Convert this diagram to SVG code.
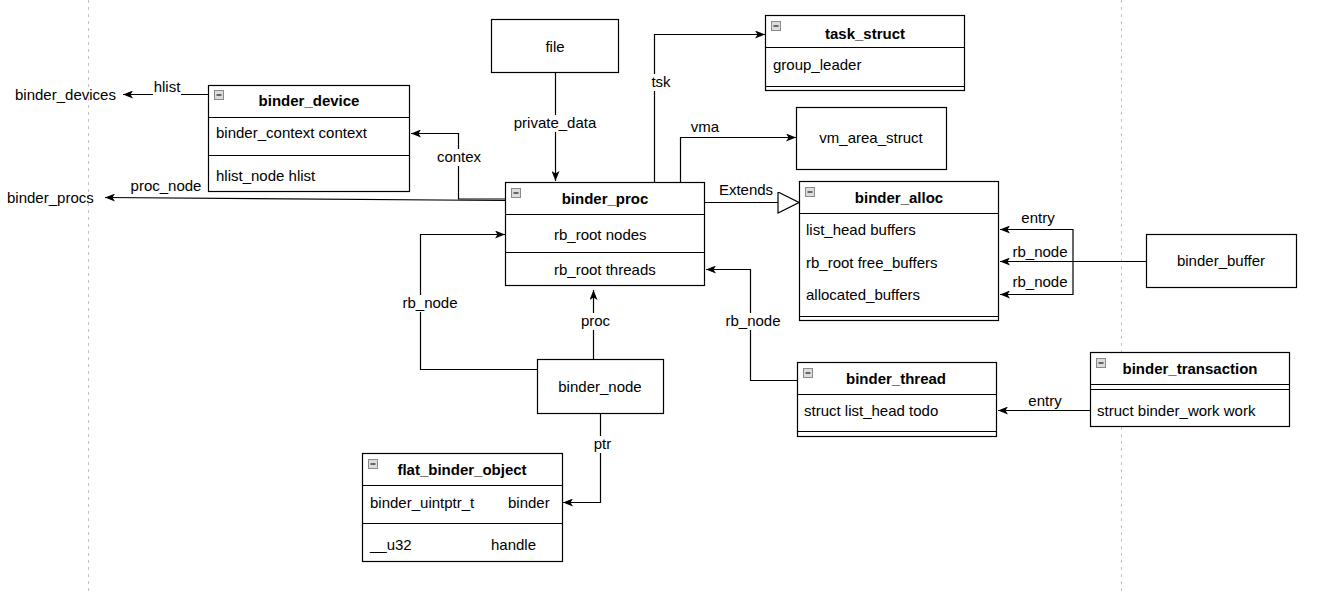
<svg xmlns="http://www.w3.org/2000/svg" width="1332" height="593" viewBox="0 0 1332 593">
<style>
.bx{fill:#fff;stroke:#000;stroke-width:1.2}
.ln{stroke:#000;stroke-width:1.2}
.t{font-family:"Liberation Sans",Arial,sans-serif;font-size:15px;fill:#000}
.b{font-weight:bold}
.c{text-anchor:middle}
.e{fill:none;stroke:#000;stroke-width:1.2}
.bg{fill:#fff}
.ic{fill:#dcdcdc;stroke:#8a8a8a;stroke-width:1}
.im{stroke:#4a4a4a;stroke-width:1.6}
.dash{stroke:#c4c4c4;stroke-width:1;stroke-dasharray:3 4}
</style>
<defs>
<marker id="arr" markerUnits="userSpaceOnUse" viewBox="0 0 10 8" refX="10" refY="4" markerWidth="10" markerHeight="8" orient="auto">
<path d="M0,0 L10,4 L0,8 L2.5,4 Z" fill="#000"/>
</marker>
<marker id="tri" markerUnits="userSpaceOnUse" viewBox="0 0 23 22" refX="22" refY="11" markerWidth="23" markerHeight="22" orient="auto">
<path d="M1,0.5 L22,11 L1,21.5 Z" fill="#fff" stroke="#000" stroke-width="1.2"/>
</marker>
<g id="icon">
<rect class="ic" x="0.5" y="0.5" width="9" height="9"/>
<line class="im" x1="2.5" y1="5" x2="7.5" y2="5"/>
</g>
</defs>
<rect width="1332" height="593" fill="#fff"/>
<g id="guides">
<line class="dash" x1="88.5" y1="0" x2="88.5" y2="593"/>
<line class="dash" x1="1121.5" y1="0" x2="1121.5" y2="593"/>
</g>
<g id="connectors">
<path class="e" d="M208,94.5 L123,94.5" marker-end="url(#arr)"/>
<rect class="bg" x="153" y="81" width="28" height="15"/>
<text class="t c" x="167" y="92">hlist</text>
<path class="e" d="M505,200.5 L105,197.5" marker-end="url(#arr)"/>
<text class="t c" x="166" y="191">proc_node</text>
<path class="e" d="M505,199 L458.5,199 L458.5,133.5 L411,133.5" marker-end="url(#arr)"/>
<rect class="bg" x="436" y="149" width="46" height="17"/>
<text class="t c" x="459" y="162">contex</text>
<path class="e" d="M555.5,73 L555.5,181" marker-end="url(#arr)"/>
<rect class="bg" x="513" y="115" width="85" height="17"/>
<text class="t c" x="555" y="128">private_data</text>
<path class="e" d="M654.5,182 L654.5,34.5 L765,34.5" marker-end="url(#arr)"/>
<rect class="bg" x="650" y="74" width="22" height="17"/>
<text class="t c" x="661" y="87">tsk</text>
<path class="e" d="M680.5,182 L680.5,137.5 L796,137.5" marker-end="url(#arr)"/>
<text class="t c" x="705" y="132">vma</text>
<path class="e" d="M705,202.5 L799,202.5" marker-end="url(#tri)"/>
<text class="t c" x="746" y="195">Extends</text>
<path class="e" d="M1146,261.5 L1073,261.5 L1073,229.5 L1000,229.5" marker-end="url(#arr)"/>
<path class="e" d="M1146,261.5 L1000,261.5" marker-end="url(#arr)"/>
<path class="e" d="M1146,261.5 L1073,261.5 L1073,294.5 L1000,294.5" marker-end="url(#arr)"/>
<text class="t c" x="1038" y="223">entry</text>
<text class="t c" x="1040" y="257">rb_node</text>
<text class="t c" x="1040" y="287">rb_node</text>
<path class="e" d="M593.5,359 L593.5,290" marker-end="url(#arr)"/>
<rect class="bg" x="580" y="313" width="31" height="17"/>
<text class="t c" x="595.5" y="326">proc</text>
<path class="e" d="M537,369.5 L420.5,369.5 L420.5,234.5 L505,234.5" marker-end="url(#arr)"/>
<rect class="bg" x="402" y="295" width="56" height="17"/>
<text class="t c" x="430" y="308">rb_node</text>
<path class="e" d="M797,380.5 L750.5,380.5 L750.5,269.5 L706,269.5" marker-end="url(#arr)"/>
<rect class="bg" x="725" y="313" width="56" height="17"/>
<text class="t c" x="753" y="326">rb_node</text>
<path class="e" d="M1090,410.5 L998,410.5" marker-end="url(#arr)"/>
<text class="t c" x="1045" y="406">entry</text>
<path class="e" d="M600.5,413 L600.5,502.5 L563,502.5" marker-end="url(#arr)"/>
<rect class="bg" x="592" y="436" width="21" height="17"/>
<text class="t c" x="602.5" y="449">ptr</text>
</g>
<g id="binder_device">
<rect class="bx" x="208.5" y="85.5" width="201" height="106"/>
<line class="ln" x1="208.5" y1="117.5" x2="409.5" y2="117.5"/>
<line class="ln" x1="208.5" y1="155.5" x2="409.5" y2="155.5"/>
<use href="#icon" x="214" y="90"/>
<text class="t b c" x="309" y="106">binder_device</text>
<text class="t" x="216" y="138">binder_context context</text>
<text class="t" x="216" y="181">hlist_node hlist</text>
</g>
<g id="binder_devices">
<text class="t" x="15" y="100">binder_devices</text>
</g>
<g id="binder_procs">
<text class="t" x="7" y="203">binder_procs</text>
</g>
<g id="file">
<rect class="bx" x="491.5" y="19.5" width="127" height="53"/>
<text class="t c" x="555" y="52">file</text>
</g>
<g id="task_struct">
<rect class="bx" x="765.5" y="15.5" width="199" height="75"/>
<line class="ln" x1="765.5" y1="47.5" x2="964.5" y2="47.5"/>
<line class="ln" x1="765.5" y1="86.5" x2="964.5" y2="86.5"/>
<use href="#icon" x="771" y="21"/>
<text class="t b c" x="865" y="39">task_struct</text>
<text class="t" x="773" y="70">group_leader</text>
</g>
<g id="vm_area_struct">
<rect class="bx" x="796.5" y="107.5" width="150" height="62"/>
<text class="t c" x="871" y="143">vm_area_struct</text>
</g>
<g id="binder_proc">
<rect class="bx" x="505.5" y="182.5" width="199" height="103"/>
<line class="ln" x1="505.5" y1="214.5" x2="704.5" y2="214.5"/>
<line class="ln" x1="505.5" y1="252.5" x2="704.5" y2="252.5"/>
<use href="#icon" x="511" y="188"/>
<text class="t b c" x="605" y="204">binder_proc</text>
<text class="t" x="554" y="240">rb_root nodes</text>
<text class="t" x="554" y="275">rb_root threads</text>
</g>
<g id="binder_alloc">
<rect class="bx" x="799.5" y="181.5" width="199" height="139"/>
<line class="ln" x1="799.5" y1="213.5" x2="998.5" y2="213.5"/>
<line class="ln" x1="799.5" y1="316.5" x2="998.5" y2="316.5"/>
<use href="#icon" x="805" y="187"/>
<text class="t b c" x="899" y="203">binder_alloc</text>
<text class="t" x="806" y="235">list_head buffers</text>
<text class="t" x="806" y="268">rb_root free_buffers</text>
<text class="t" x="806" y="300">allocated_buffers</text>
</g>
<g id="binder_buffer">
<rect class="bx" x="1146.5" y="234.5" width="150" height="53"/>
<text class="t c" x="1221" y="266">binder_buffer</text>
</g>
<g id="binder_node">
<rect class="bx" x="537.5" y="359.5" width="126" height="54"/>
<text class="t c" x="600" y="392">binder_node</text>
</g>
<g id="binder_thread">
<rect class="bx" x="797.5" y="362.5" width="199" height="74"/>
<line class="ln" x1="797.5" y1="394.5" x2="996.5" y2="394.5"/>
<line class="ln" x1="797.5" y1="431.5" x2="996.5" y2="431.5"/>
<use href="#icon" x="803" y="368"/>
<text class="t b c" x="896" y="384">binder_thread</text>
<text class="t" x="804" y="416">struct list_head todo</text>
</g>
<g id="binder_transaction">
<rect class="bx" x="1090.5" y="352.5" width="199" height="74"/>
<line class="ln" x1="1090.5" y1="384.5" x2="1289.5" y2="384.5"/>
<line class="ln" x1="1090.5" y1="389.5" x2="1289.5" y2="389.5"/>
<use href="#icon" x="1096" y="358"/>
<text class="t b c" x="1190" y="374">binder_transaction</text>
<text class="t" x="1097" y="416">struct binder_work work</text>
</g>
<g id="flat_binder_object">
<rect class="bx" x="362.5" y="453.5" width="200" height="108"/>
<line class="ln" x1="362.5" y1="485.5" x2="562.5" y2="485.5"/>
<line class="ln" x1="362.5" y1="523.5" x2="562.5" y2="523.5"/>
<use href="#icon" x="368" y="459"/>
<text class="t b c" x="462" y="475">flat_binder_object</text>
<text class="t" x="370" y="508">binder_uintptr_t</text>
<text class="t" x="508" y="508">binder</text>
<text class="t" x="370" y="550">__u32</text>
<text class="t" x="491" y="550">handle</text>
</g>
</svg>
